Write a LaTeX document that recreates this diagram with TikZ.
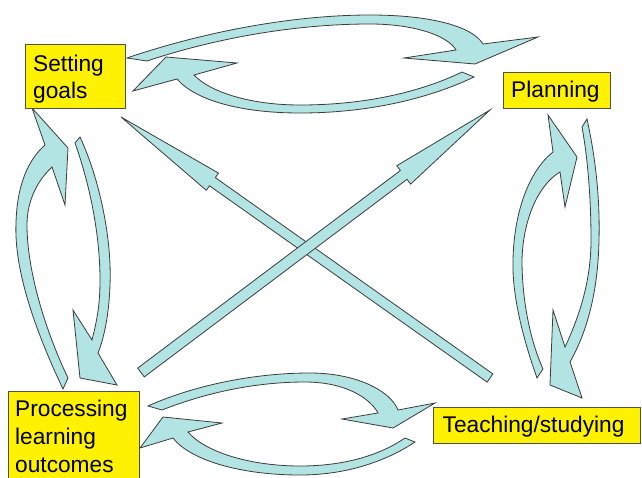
\documentclass[tikz,border=0pt]{standalone}
\usepackage{fontspec}
\setmainfont{Liberation Sans}
\definecolor{arrowfill}{RGB}{179,228,228}
\definecolor{arrowline}{RGB}{60,60,60}
\definecolor{boxline}{RGB}{80,80,80}
\tikzset{
  blockarrow/.style={fill=arrowfill, draw=arrowline, line width=0.8pt, line join=miter},
  box/.style={draw=boxline, fill=yellow, line width=1pt, inner sep=0pt, anchor=north west},
  boxtext/.style={anchor=base west, inner sep=0pt, font=\fontsize{22.7}{27.5}\selectfont},
  boxtextb/.style={anchor=base west, inner sep=0pt, font=\fontsize{22.7}{28.4}\selectfont}
}
\begin{document}
\begin{tikzpicture}[x=1pt,y=-1pt]
\useasboundingbox (0,0) rectangle (642,477);
\clip (0,0) rectangle (642,477);

% top pair
\draw[blockarrow] (127,58) .. controls (200,33) and (290,15) .. (370,15) .. controls (430,15) and (472,26) .. (483,44) -- (538,37) -- (475,64) -- (404,58) -- (456,50) .. controls (448,36) and (415,24) .. (370,24) .. controls (290,24) and (210,40) .. (147,61) -- cycle;
\draw[blockarrow] (474,77) .. controls (430,98) and (370,113) .. (300,113) .. controls (240,113) and (195,100) .. (177,79) -- (133,91) -- (166,57) -- (237,63) -- (194,75) .. controls (210,92) and (250,105) .. (300,105) .. controls (370,105) and (425,90) .. (462,72) -- cycle;

% bottom pair
\draw[blockarrow] (148,406) .. controls (190,387) and (250,373) .. (310,373) .. controls (355,373) and (390,390) .. (398,410) -- (435,403) -- (393,428) -- (342,419) -- (378,413) .. controls (370,398) and (345,382) .. (305,382) .. controls (250,382) and (200,395) .. (162,410) -- cycle;
\draw[blockarrow] (415,442) .. controls (385,462) and (345,475) .. (300,475) .. controls (240,475) and (190,460) .. (173,438) -- (140,448) -- (163,417) -- (222,423) -- (188,432) .. controls (205,452) and (250,466) .. (300,466) .. controls (345,466) and (380,455) .. (405,438) -- cycle;

% left pair
\draw[blockarrow] (63,389) .. controls (35,330) and (14,270) .. (16,223) .. controls (17,185) and (28,160) .. (45,145) -- (32,108) -- (68,148) -- (65,205) -- (52,167) .. controls (38,180) and (27,200) .. (27,225) .. controls (27,270) and (45,330) .. (68,378) -- cycle;
\draw[blockarrow] (80,137) .. controls (100,180) and (112,240) .. (110,285) .. controls (109,315) and (104,338) .. (98,353) -- (117,385) -- (80,378) -- (73,310) -- (92,340) .. controls (97,320) and (100,305) .. (100,280) .. controls (100,235) and (90,185) .. (75,143) -- cycle;

% right pair
\draw[blockarrow] (537,378) .. controls (520,330) and (512,290) .. (513,260) .. controls (514,210) and (530,170) .. (553,152) -- (548,115) -- (577,157) -- (565,207) -- (560,172) .. controls (538,185) and (523,220) .. (522,260) .. controls (522,300) and (530,340) .. (543,369) -- cycle;
\draw[blockarrow] (587,119) .. controls (596,160) and (600,200) .. (599,240) .. controls (598,290) and (588,330) .. (570,362) -- (582,398) -- (550,385) -- (553,310) -- (565,347) .. controls (580,315) and (591,280) .. (591,240) .. controls (591,200) and (588,160) .. (582,127) -- cycle;

% diagonal arrows
\draw[blockarrow] (492.9,373.9) -- (215.3,177.6) -- (218.5,173.1) -- (121,117) -- (206.3,190.3) -- (209.5,185.8) -- (487.1,382.1) -- cycle;
\draw[blockarrow] (144.3,376.9) -- (407.0,179.3) -- (410.6,184.1) -- (490,110) -- (396.8,165.7) -- (400.4,170.5) -- (137.7,368.1) -- cycle;

% boxes
\node[box, minimum width=100pt, minimum height=64pt] (sg) at (25,44) {};
\node[box, minimum width=107pt, minimum height=36pt] (pl) at (503,72) {};
\node[box, minimum width=207pt, minimum height=36pt] (ts) at (433,407) {};
\node[box, minimum width=131pt, minimum height=110pt] (pr) at (8,391) {};

\node[boxtext] (sgt) at (33,71) {\begin{tabular}[t]{@{}l@{}}Setting\\goals\end{tabular}};
\node[boxtext] (plt) at (511,97.5) {Planning};
\node[boxtext] (tst) at (442.5,432.5) {Teaching/studying};
\node[boxtextb] (prt) at (15,416) {\begin{tabular}[t]{@{}l@{}}Processing\\learning\\outcomes\end{tabular}};
\end{tikzpicture}
\end{document}
